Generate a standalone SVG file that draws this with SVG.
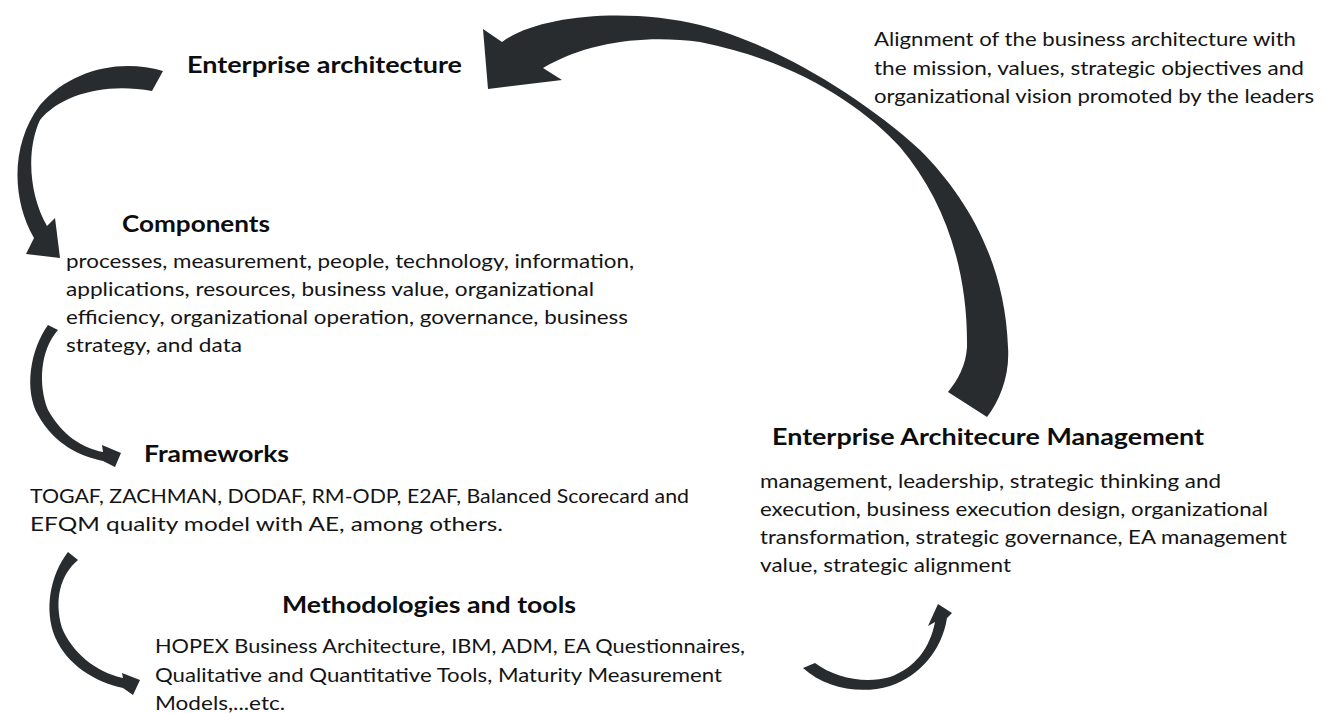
<svg xmlns="http://www.w3.org/2000/svg" width="1327" height="713" viewBox="0 0 1327 713">
<style>
.t{font-family:Lato,"Open Sans","Liberation Sans",sans-serif;font-size:20px;fill:#141414}
.h{font-family:Lato,"Open Sans","Liberation Sans",sans-serif;font-size:23px;font-weight:bold;fill:#0d0d0d}
.a{fill:#282c2f;stroke:none}
</style>
<rect width="1327" height="713" fill="#ffffff"/>
<g id="connectors">
<path class="a" d="M 502,42 C 540,14 630,8 700,25 C 770,42 860,95 920,150 C 965,195 1005,260 1008,347 C 1010,375 1000,400 987,417 L 948,392 C 958,380 966,365 967,347 C 968,270 945,200 900,147 C 862,106 796,61 700,42 C 650,35 590,40 543,68 L 562,80 L 488,89 L 483,29 Z"/>
<path class="a" d="M 163,71 C 120,58 70,70 40,105 C 10,145 12,200 34,238 L 26,254 L 60,258 L 55,218 L 47,226 C 29,195 26,150 40,120 C 60,95 105,82 152,91 Z"/>
<path class="a" d="M 48,325 C 30,350 24,390 38,415 C 55,445 80,456 103,461 L 115,467 L 121,453 L 102,445 L 103,452 C 82,448 62,435 48,410 C 38,385 40,350 58,330 Z"/>
<path class="a" d="M 68,552 C 50,575 44,610 55,637 C 67,665 95,682 123,688 L 133,695 L 140,680 L 122,673 L 123,678 C 95,672 72,652 62,628 C 54,600 60,575 78,560 Z"/>
<path class="a" d="M 803,668 C 825,688 860,695 890,686 C 920,676 942,650 947,618 L 952,613 L 938,604 L 928,626 L 935,622 C 930,648 915,668 890,677 C 865,684 835,678 815,663 Z"/>
</g>
<g id="enterprise-architecture">
<text class="h" x="187" y="73" textLength="275" lengthAdjust="spacingAndGlyphs">Enterprise architecture</text>
</g>
<g id="alignment-note">
<text class="t" x="874" y="46" textLength="422" lengthAdjust="spacingAndGlyphs">Alignment of the business architecture with</text>
<text class="t" x="874" y="75" textLength="430" lengthAdjust="spacingAndGlyphs">the mission, values, strategic objectives and</text>
<text class="t" x="874" y="103" textLength="440" lengthAdjust="spacingAndGlyphs">organizational vision promoted by the leaders</text>
</g>
<g id="components">
<text class="h" x="122" y="232" textLength="148" lengthAdjust="spacingAndGlyphs">Components</text>
<text class="t" x="66" y="268" textLength="568" lengthAdjust="spacingAndGlyphs">processes, measurement, people, technology, information,</text>
<text class="t" x="66" y="296" textLength="528" lengthAdjust="spacingAndGlyphs">applications, resources, business value, organizational</text>
<text class="t" x="66" y="324" textLength="562" lengthAdjust="spacingAndGlyphs">efficiency, organizational operation, governance, business</text>
<text class="t" x="66" y="352" textLength="176" lengthAdjust="spacingAndGlyphs">strategy, and data</text>
</g>
<g id="frameworks">
<text class="h" x="144" y="462" textLength="145" lengthAdjust="spacingAndGlyphs">Frameworks</text>
<text class="t" x="30" y="503" textLength="659" lengthAdjust="spacingAndGlyphs">TOGAF, ZACHMAN, DODAF, RM-ODP, E2AF, Balanced Scorecard and</text>
<text class="t" x="30" y="531" textLength="473" lengthAdjust="spacingAndGlyphs">EFQM quality model with AE, among others.</text>
</g>
<g id="methodologies">
<text class="h" x="282" y="613" textLength="294" lengthAdjust="spacingAndGlyphs">Methodologies and tools</text>
<text class="t" x="155" y="653" textLength="590" lengthAdjust="spacingAndGlyphs">HOPEX Business Architecture, IBM, ADM, EA Questionnaires,</text>
<text class="t" x="155" y="682" textLength="567" lengthAdjust="spacingAndGlyphs">Qualitative and Quantitative Tools, Maturity Measurement</text>
<text class="t" x="155" y="710" textLength="130" lengthAdjust="spacingAndGlyphs">Models,...etc.</text>
</g>
<g id="ea-management">
<text class="h" x="772" y="445" textLength="432" lengthAdjust="spacingAndGlyphs">Enterprise Architecure Management</text>
<text class="t" x="760" y="488" textLength="461" lengthAdjust="spacingAndGlyphs">management, leadership, strategic thinking and</text>
<text class="t" x="760" y="516" textLength="508" lengthAdjust="spacingAndGlyphs">execution, business execution design, organizational</text>
<text class="t" x="760" y="544" textLength="527" lengthAdjust="spacingAndGlyphs">transformation, strategic governance, EA management</text>
<text class="t" x="760" y="572" textLength="251" lengthAdjust="spacingAndGlyphs">value, strategic alignment</text>
</g>
</svg>
